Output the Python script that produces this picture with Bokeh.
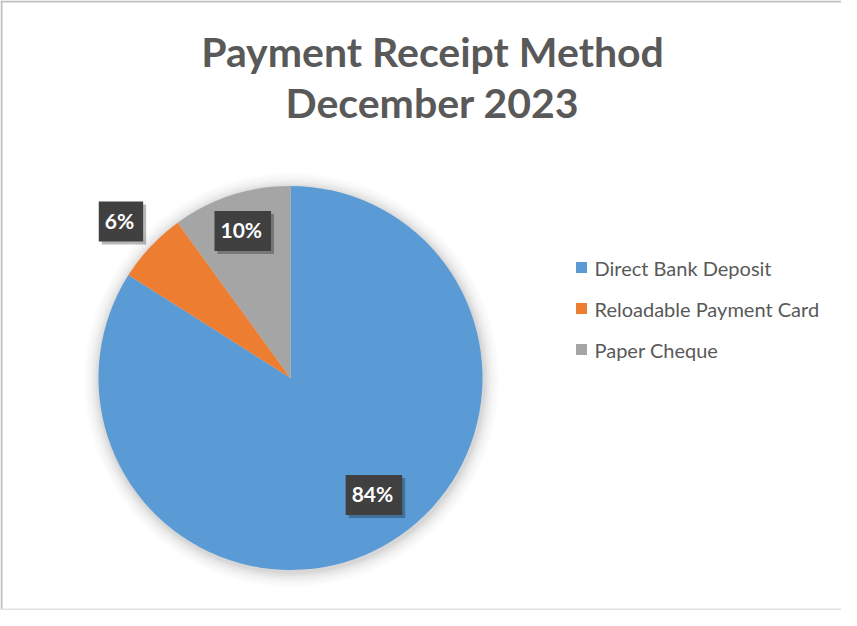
import math
from bokeh.plotting import figure
from bokeh.models import ColumnDataSource
from bokeh.core.properties import value
from bokeh.embed import file_html
from bokeh.resources import INLINE

# ---- data ----
categories = ["Direct Bank Deposit", "Reloadable Payment Card", "Paper Cheque"]
shares = [84, 6, 10]
colors = ["#5b9bd5", "#ed7d31", "#a5a5a5"]
title_lines = ["Payment Receipt Method", "December 2023"]

# ---- layout ----
W, H = 841, 610
cx, cy, R = 290, 232.5, 192

p = figure(width=W, height=H, x_range=(0, W), y_range=(0, H),
           output_backend="svg", toolbar_location=None,
           min_border=0, outline_line_color=None)
p.axis.visible = False
p.grid.visible = False
p.background_fill_color = "white"
p.border_fill_color = "white"

# chart border (left, top, bottom)
p.segment(x0=[1, 0, 0], y0=[0, H - 1, 1], x1=[1, W, W], y1=[H, H - 1, 1],
          line_color=["#c0c0c0", "#c0c0c0", "#e2e2e2"], line_width=2)

# title
p.text(x=[432] * 2, y=[559, 508], text=title_lines,
       text_font=value("Lato"), text_font_style="bold", text_font_size="41px",
       text_color="#595959", text_align="center", text_baseline="middle")

# soft shadow of the pie
for i, a in enumerate([0.035, 0.03, 0.025, 0.02, 0.015, 0.012, 0.01, 0.008]):
    p.circle(x=cx + 1, y=cy - 2, radius=R + 2 + i * 2, radius_units="screen",
             fill_color="black", fill_alpha=a, line_color=None)

# wedges
total = sum(shares)
cum = 0.0
starts, ends, mids = [], [], []
for s in shares:
    a0 = math.pi / 2 - 2 * math.pi * cum / total
    cum += s
    a1 = math.pi / 2 - 2 * math.pi * cum / total
    starts.append(a0)
    ends.append(a1)
    mids.append((a0 + a1) / 2)

src = ColumnDataSource(dict(x=[cx] * 3, y=[cy] * 3, start=starts, end=ends,
                            color=colors, cat=categories))
p.wedge(x="x", y="y", radius=R, radius_units="screen", start_angle="start",
        end_angle="end", direction="clock", fill_color="color", line_color=None,
        source=src)

# data labels
label_r = [143.7, 230.7, 154.5]
label_nudge = [math.radians(6.7), math.radians(0.5), 0.0]
lx = [cx + r * math.cos(m + n) for r, m, n in zip(label_r, mids, label_nudge)]
ly = [cy + r * math.sin(m + n) for r, m, n in zip(label_r, mids, label_nudge)]
labels = [f"{s}%" for s in shares]

# label shadows
p.text(x=lx, y=ly, text=labels, x_offset=3, y_offset=3,
       text_font=value("Lato"), text_font_style="bold", text_font_size="21px",
       text_color=None, text_align="center", text_baseline="middle",
       background_fill_color="#000000", background_fill_alpha=0.28,
       padding=[6, 9, 6, 9])
p.text(x=lx, y=ly, text=labels,
       text_font=value("Lato"), text_font_style="bold", text_font_size="21px",
       text_color="white", text_align="center", text_baseline="middle",
       background_fill_color="#404040", padding=[6, 9, 6, 9])

# legend (manual)
leg_y = [343, 302, 261]
p.scatter(x=[581] * 3, y=leg_y, marker="square", size=11,
          fill_color=colors, line_color=None)
p.text(x=[594] * 3, y=leg_y, text=categories,
       text_font=value("Lato"), text_font_size="20px", text_color="#595959",
       text_align="left", text_baseline="middle")

open("out.html", "w").write(file_html(p, INLINE))
